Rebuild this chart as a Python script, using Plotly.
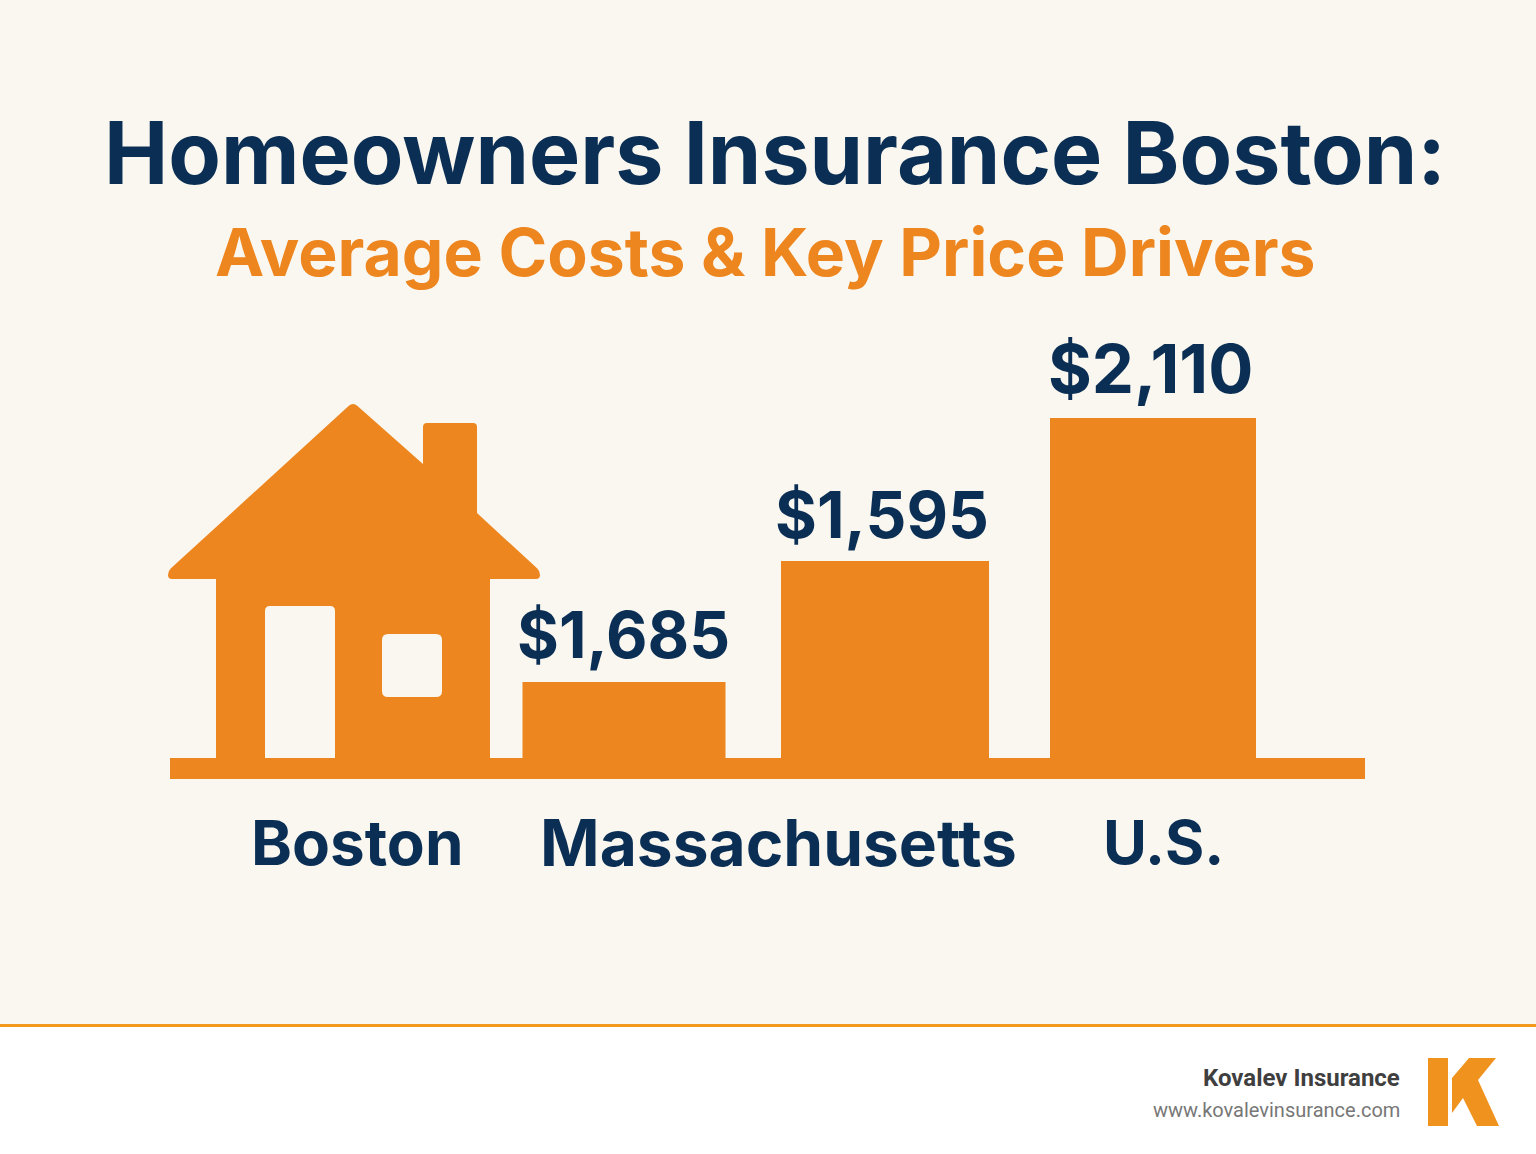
import math
import plotly.graph_objects as go

TITLE = "Homeowners Insurance Boston:"
SUBTITLE = "Average Costs & Key Price Drivers"
categories = ["Boston", "Massachusetts", "U.S."]
bar_names = ["Boston", "Massachusetts", "U.S."]
price_labels = ["$1,685", "$1,595", "$2,110"]
bar_heights = [97, 218, 361]
BRAND = "Kovalev Insurance"
URL = "www.kovalevinsurance.com"

W, H = 1536, 1154
BASE = 779
ORANGE = "#EE861F"
NAVY = "#0B2F54"
CREAM = "#FAF7F0"
FONT = "Inter"


def yy(py):
    return H - py


def path(points):
    return "M " + " L ".join(f"{x},{yy(y)}" for x, y in points) + " Z"


def rpath(points):
    n = len(points)
    out = []
    for i, (pt, rad) in enumerate(points):
        px, py = points[i - 1][0]
        nx, ny = points[(i + 1) % n][0]
        x, y = pt
        if rad == 0:
            out.append(("L", x, y))
            continue
        d1 = math.hypot(px - x, py - y)
        d2 = math.hypot(nx - x, ny - y)
        a = (x + (px - x) / d1 * rad, y + (py - y) / d1 * rad)
        b = (x + (nx - x) / d2 * rad, y + (ny - y) / d2 * rad)
        out.append(("L", a[0], a[1]))
        out.append(("Q", x, y, b[0], b[1]))
    s = ""
    for j, o in enumerate(out):
        if o[0] == "L":
            s += ("M " if j == 0 else "L ") + f"{o[1]},{yy(o[2])} "
        else:
            s += f"Q {o[1]},{yy(o[2])} {o[3]},{yy(o[4])} "
    return s + "Z"


bar_x = [624, 885, 1153]
bar_w = [203, 208, 206]

fig = go.Figure()
fig.add_trace(go.Bar(
    x=bar_x, y=bar_heights, width=bar_w, base=yy(BASE),
    marker=dict(color=ORANGE, line=dict(width=0)),
    name="Average cost", hovertext=price_labels, showlegend=False,
))

shapes = [
    dict(type="rect", x0=0, x1=W, y0=yy(1025), y1=yy(0), fillcolor=CREAM, line_width=0, layer="below"),
    dict(type="rect", x0=0, x1=W, y0=yy(1027), y1=yy(1024), fillcolor="#F39A1E", line_width=0, layer="below"),
    dict(type="rect", x0=170, x1=1365, y0=yy(779), y1=yy(758), fillcolor=ORANGE, line_width=0, layer="below"),
]

house = [((353, 402), 6), ((423, 464), 0), ((423, 423), 4), ((477, 423), 4), ((477, 513), 0),
         ((540, 571), 4), ((540, 579), 4), ((490, 579), 0), ((490, 760), 0), ((216, 760), 0),
         ((216, 579), 0), ((168, 579), 4), ((168, 571), 4)]
shapes.append(dict(type="path", path=rpath(house), fillcolor=ORANGE, line_width=0, layer="below"))
door = [((265, 606), 5), ((335, 606), 5), ((335, 758), 0), ((265, 758), 0)]
window = [((382, 634), 6), ((442, 634), 6), ((442, 697), 6), ((382, 697), 6)]
shapes.append(dict(type="path", path=rpath(door), fillcolor=CREAM, line_width=0, layer="below"))
shapes.append(dict(type="path", path=rpath(window), fillcolor=CREAM, line_width=0, layer="below"))
logo1 = [(1428, 1058), (1448, 1058), (1448, 1126), (1428, 1126)]
logo2 = [(1469, 1058), (1496, 1058), (1478, 1080), (1499, 1126), (1477, 1126), (1463, 1098), (1452, 1113), (1452, 1078)]
for p in (logo1, logo2):
    shapes.append(dict(type="path", path=path(p), fillcolor="#F0931E", line_width=0, layer="above"))


def label(text, x, y, size, color, weight=700, family=FONT, anchor="center"):
    fig.add_annotation(x=x, y=yy(y), text=text, showarrow=False, xref="x", yref="y",
                       xanchor=anchor, yanchor="middle",
                       font=dict(family=family, size=size, color=color, weight=weight))


label(TITLE, 775, 153, 86, NAVY)
label(SUBTITLE, 765.5, 252, 66, ORANGE)
for t, x, y, s in zip(price_labels, [623, 882, 1150], [634, 514, 368], [64, 64, 67]):
    label(t, x, y, s, NAVY)
for t, x, s in zip(categories, [357, 778, 1163], [62, 64, 60]):
    label(t, x, 842, s, NAVY)
label(BRAND, 1402, 1078, 24, "#3F3F3F", 700, "Roboto", "right")
label(URL, 1402, 1110, 20, "#777777", 400, "Roboto", "right")

fig.update_layout(
    width=W, height=H, margin=dict(l=0, r=0, t=0, b=0),
    paper_bgcolor="white", plot_bgcolor="rgba(0,0,0,0)",
    xaxis=dict(range=[0, W], visible=False, fixedrange=True),
    yaxis=dict(range=[0, H], visible=False, fixedrange=True),
    shapes=shapes, showlegend=False,
)
fig.write_html("out.html", config={"displayModeBar": False},
               post_script="document.body.style.margin='0';")
